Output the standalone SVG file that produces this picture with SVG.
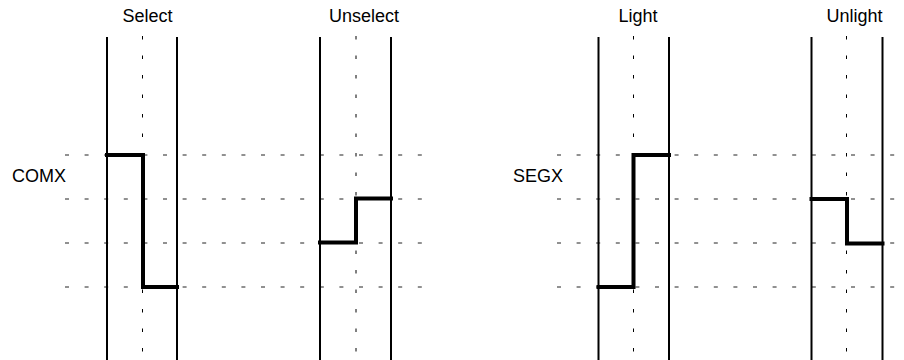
<svg xmlns="http://www.w3.org/2000/svg" width="904" height="360" viewBox="0 0 904 360">
<style>
text{font-family:"Liberation Sans",Arial,sans-serif;font-size:18px;fill:#000}
.t{text-anchor:middle}
.rail{stroke:#000;stroke-width:2;fill:none}
.mid{stroke:#000;stroke-width:1;stroke-dasharray:3.5 16;fill:none}
.grid{stroke:#222;stroke-width:1;stroke-dasharray:4 15.6;fill:none}
.sig{stroke:#000;stroke-width:4;fill:none;stroke-linejoin:miter;stroke-linecap:square}
</style>
<rect width="904" height="360" fill="#fff"/>
<g id="grid">
<path class="grid" d="M65 155H422M65 199H422M65 243H422M65 287H422"/>
<path class="grid" d="M557 155H904M557 199H904M557 243H904M557 287H904"/>
</g>
<g id="labels">
<text x="12" y="182">COMX</text>
<text x="513" y="182">SEGX</text>
</g>
<g id="select">
<text class="t" x="147.5" y="22">Select</text>
<path class="rail" d="M107 37V360M177 37V360"/>
<path class="mid" d="M142.5 36V360"/>
<path class="sig" d="M107 155H143V287H177"/>
</g>
<g id="unselect">
<text class="t" x="364" y="22">Unselect</text>
<path class="rail" d="M320 37V360M391 37V360"/>
<path class="mid" d="M356 36V360"/>
<path class="sig" d="M320 242.5H356V198.5H391"/>
</g>
<g id="light">
<text class="t" x="638" y="22">Light</text>
<path class="rail" d="M598.5 37V360M669 37V360"/>
<path class="mid" d="M633.5 36V360"/>
<path class="sig" d="M598.5 287H633.5V155H669"/>
</g>
<g id="unlight">
<text class="t" x="854.5" y="22">Unlight</text>
<path class="rail" d="M811.5 37V360M882.5 37V360"/>
<path class="mid" d="M846.5 36V360"/>
<path class="sig" d="M811.5 199H847V243.5H882.5"/>
</g>
<g id="connectors"></g>
</svg>
